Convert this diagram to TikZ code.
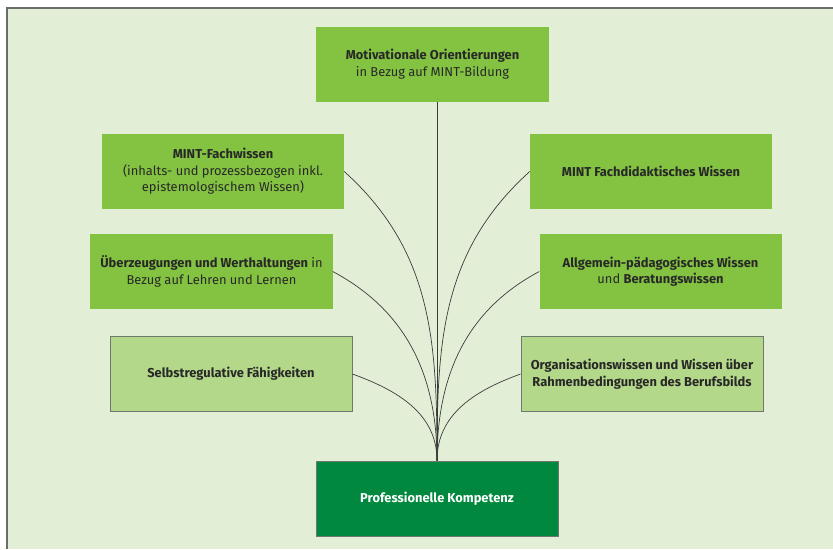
\documentclass[tikz,border=0pt]{standalone}
\usepackage{fontspec}
\setmainfont{Fira Sans}
\usetikzlibrary{positioning}
\definecolor{panelbg}{RGB}{226,238,214}
\definecolor{panelrule}{RGB}{105,110,105}
\definecolor{midgreen}{RGB}{131,195,65}
\definecolor{lightgreen}{RGB}{180,216,138}
\definecolor{coregreen}{RGB}{0,137,62}
\definecolor{boxline}{RGB}{110,120,110}
\definecolor{darktext}{RGB}{40,40,40}
\definecolor{linegray}{RGB}{60,60,60}
\tikzset{%
  font=\fontsize{11}{14}\selectfont,
  box/.style={rectangle,fill=midgreen,text=darktext,align=center,minimum width=7.26cm,minimum height=2.25cm,inner sep=2pt},
  lightbox/.style={box,fill=lightgreen,draw=boxline,line width=0.8pt},
  corebox/.style={box,fill=coregreen,draw=boxline,line width=0.8pt,text=white},
  link/.style={draw=linegray,line width=0.6pt}
}

\begin{document}
\begin{tikzpicture}[x=0.03cm,y=-0.03cm]
	\useasboundingbox (0,0) rectangle (833,549);
	\fill[panelbg] (7,8) rectangle (833,549);
	\draw[panelrule,line width=1.2pt] (7,549) -- (7,8) -- (833,8);
	
	\node[box,minimum width=6.99cm] at (432.5,64) (motiv) {\textbf{Motivationale Orientierungen}\\in Bezug auf MINT-Bildung};
	\node[box] at (223,171.5) (fach) {\textbf{MINT-Fachwissen}\\(inhalts- und prozessbezogen inkl.\\epistemologischem Wissen)};
	\node[box] at (211.5,271.5) (ueberz) {\textbf{Überzeugungen und Werthaltungen} in\\Bezug auf Lehren und Lernen};
	\node[box] at (651,171.5) (didakt) {\textbf{MINT Fachdidaktisches Wissen}};
	\node[box] at (660.5,271.5) (allgem) {\textbf{Allgemein-pädagogisches Wissen}\\und \textbf{Beratungswissen}};
	\node[lightbox] at (231,374) (selbst) {\textbf{Selbstregulative Fähigkeiten}};
	\node[lightbox] at (642,374) (organ) {\textbf{Organisationswissen und Wissen über}\\\textbf{Rahmenbedingungen des Berufsbilds}};
	\node[corebox] at (437,498.5) (kompetenz) {\textbf{Professionelle Kompetenz}};
	
	% Verbindungen zur Kompetenz
	\begin{scope}[link]
	\draw (kompetenz.north |- motiv.south) -- (kompetenz.north);
	\draw (fach.east) to[out=-42,in=90] (kompetenz.north);
	\draw (ueberz.east) to[out=-28,in=90] (kompetenz.north);
	\draw (selbst.east) to[out=-20,in=90] (kompetenz.north);
	\draw (didakt.west) to[out=222,in=90] (kompetenz.north);
	\draw (allgem.west) to[out=208,in=90] (kompetenz.north);
	\draw (organ.west) to[out=200,in=90] (kompetenz.north);
	\end{scope}
\end{tikzpicture}
\end{document}
